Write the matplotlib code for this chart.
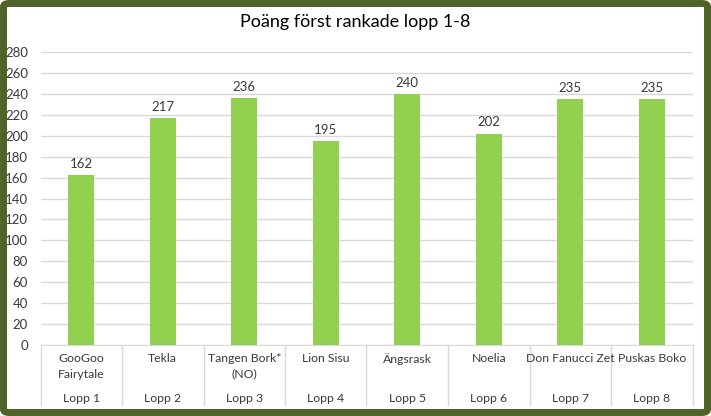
import matplotlib.pyplot as plt
from matplotlib.patches import FancyBboxPatch

# data
names = ["GooGoo\nFairytale", "Tekla", "Tangen Bork*\n(NO)", "Lion Sisu",
         "Ängsrask", "Noelia", "Don Fanucci Zet", "Puskas Boko"]
races = ["Lopp 1", "Lopp 2", "Lopp 3", "Lopp 4", "Lopp 5", "Lopp 6", "Lopp 7", "Lopp 8"]
points = [162, 217, 236, 195, 240, 202, 235, 235]
yticks = list(range(0, 281, 20))

plt.rcParams['font.family'] = ['Lato', 'DejaVu Sans']
W, H = 711, 416
fig = plt.figure(figsize=(W / 100, H / 100), dpi=100, facecolor="white")

# dark green frame
frame = FancyBboxPatch((3.5 / W, 3.5 / H), 1 - 7 / W, 1 - 7 / H,
                       boxstyle="round,pad=0,rounding_size=0.008",
                       transform=fig.transFigure, facecolor="none",
                       edgecolor="#4F6228", linewidth=5)
fig.patches.append(frame)

fs = 9.5
fs_cat = 8.8
txt = "#3A3A3A"
x0, x1 = 40.5, 692.5
y_top, y_bot = 52, 345
ax = fig.add_axes([x0 / W, (H - y_bot) / H, (x1 - x0) / W, (y_bot - y_top) / H])
ax.patch.set_alpha(0)

xs = list(range(len(points)))
ax.bar(xs, points, width=0.32, color="#92D050", zorder=3)
for x, v in zip(xs, points):
    ax.text(x, v + 5, str(v), ha="center", va="bottom", fontsize=fs, color=txt)

ax.set_xlim(-0.5, len(points) - 0.5)
ax.set_ylim(0, 280)
ax.set_yticks(yticks)
ax.tick_params(axis="y", length=0, labelsize=fs, labelcolor=txt, pad=9)
ax.set_xticks([])
ax.grid(axis="y", color="#D9D9D9", linewidth=1, zorder=0)
for s in ["top", "right", "left"]:
    ax.spines[s].set_visible(False)
ax.spines["bottom"].set_color("#D9D9D9")

# two-level category axis
sep_bottom = 405
for i in range(len(points) + 1):
    xf = (x0 + i * (x1 - x0) / len(points)) / W
    fig.add_artist(plt.Line2D([xf, xf], [(H - y_bot) / H, (H - sep_bottom) / H],
                              color="#D9D9D9", linewidth=1))
for i, (n, r) in enumerate(zip(names, races)):
    xf = (x0 + (i + 0.5) * (x1 - x0) / len(points)) / W
    fig.text(xf, (H - 353) / H, n, ha="center", va="top", fontsize=fs_cat,
             color=txt, linespacing=1.5)
    fig.text(xf, (H - 398) / H, r, ha="center", va="center", fontsize=fs_cat,
             color=txt)

fig.text(0.5, (H - 22) / H, "Poäng först rankade lopp 1-8", ha="center", va="center",
         fontsize=13, color="#000000")

fig.savefig("out.png", dpi=100)
